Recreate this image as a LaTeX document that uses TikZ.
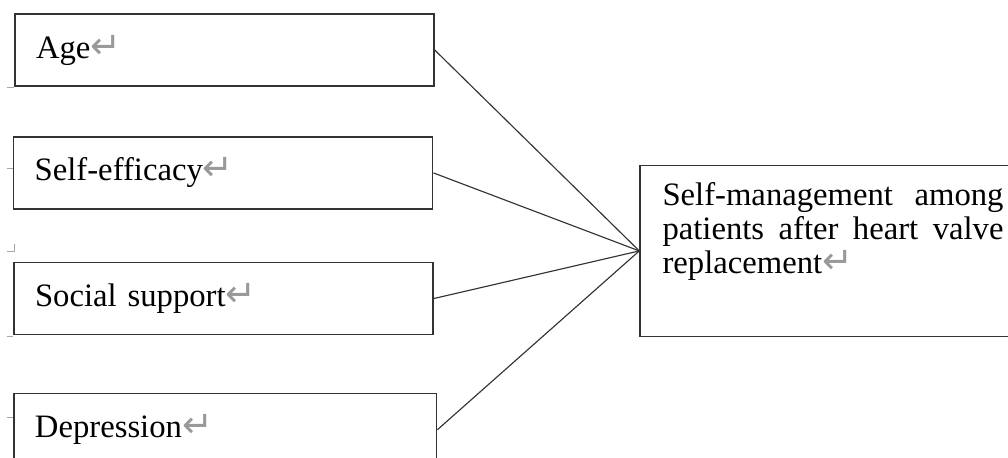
\documentclass[tikz,border=0pt]{standalone}
\usepackage{fontspec}
\setmainfont{Liberation Serif}
\newfontfamily\markfont{DejaVu Sans}
\usetikzlibrary{calc,positioning}
\newcommand{\retmark}{{\markfont\fontsize{21}{19.3}\selectfont\textcolor{black!40}{↵}}}
\tikzset{
  factor box/.style={
    draw=black!80,
    line width=0.8pt,
    rectangle,
    minimum height=1.44cm,
    inner xsep=0.42cm,
    align=left,
    font=\fontsize{18.6}{19.3}\selectfont
  },
  outcome box/.style={
    draw=black!80,
    line width=0.8pt,
    rectangle,
    inner xsep=0.45cm,
    inner ysep=0.35cm,
    font=\fontsize{18.6}{19.3}\selectfont
  },
  link/.style={draw=black!80, line width=0.65pt},
  frame mark/.style={draw=black!35, line width=0.6pt}
}

\begin{document}
\begin{tikzpicture}

  \useasboundingbox (0,0) rectangle (20.16,-9.14);

  \node [factor box, text width=7.54cm] at(4.49,-1.0) (age) {Age\retmark};
  \node [factor box, text width=7.54cm] at($(age) + (-0.026,-2.458)$) (efficacy) {Self-efficacy\retmark};
  \node [factor box, text width=7.54cm] at($(efficacy) + (0.006,-2.513)$) (support) {Social support\retmark};
  \node [factor box, text width=7.614cm] at($(support) + (0.036,-2.624)$) (depression) {Depression\retmark};

  \node [outcome box, anchor=north west] at(12.786,-3.294) (outcome) {\parbox[t][2.72cm][t]{6.82cm}{\spaceskip=0.25em plus 2em\tolerance=9999\hyphenpenalty=10000\exhyphenpenalty=10000
    Self-management among patients after heart valve replacement\retmark}};

  \draw [link] (age.east) -- (outcome.west);
  \draw [link] (efficacy.east) -- (outcome.west);
  \draw [link] (support.east) -- (outcome.west);
  \draw [link] (depression.east) -- (outcome.west);

  \draw [frame mark] ($(age.south west) + (-0.14,-0.02)$) -- ++(0.14,0);
  \draw [frame mark] ($(efficacy.west) + (-0.12,0.08)$) -- ++(0.12,0);
  \draw [frame mark] ($(support.north west) + (-0.12,0.21)$) -- ++(0.14,0) -- ++(0,0.14);
  \draw [frame mark] ($(support.south west) + (-0.12,-0.03)$) -- ++(0.12,0);
  \draw [frame mark] ($(depression.west) + (-0.12,0.24)$) -- ++(0.12,0);

\end{tikzpicture}
\end{document}
